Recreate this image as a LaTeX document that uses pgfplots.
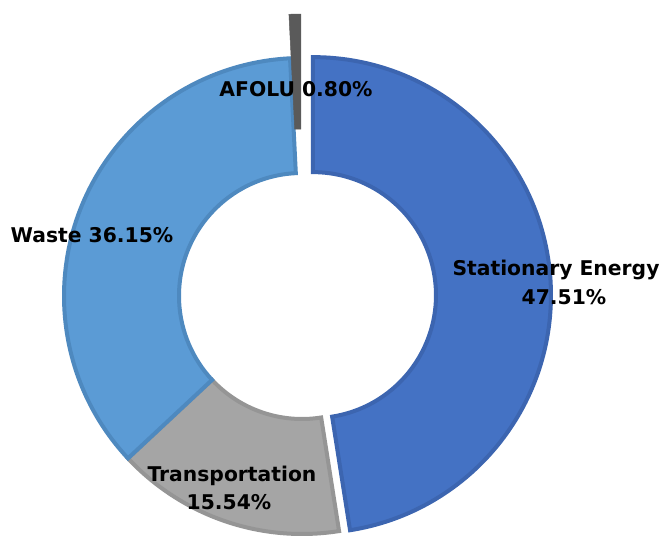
\documentclass[border=0pt]{standalone}
\usepackage{pgfplots}
\pgfplotsset{compat=1.18}
\usepackage{pgfplotstable}
\usepackage{fontspec}
\setmainfont{DejaVu Sans}
\definecolor{c0}{HTML}{4472C4}\definecolor{d0}{HTML}{3C65B0}
\definecolor{c1}{HTML}{A5A5A5}\definecolor{d1}{HTML}{959595}
\definecolor{c2}{HTML}{5B9BD5}\definecolor{d2}{HTML}{4E89BF}
\definecolor{c3}{HTML}{5A5A5A}\definecolor{d3}{HTML}{5A5A5A}
\newcommand\lbl{\bfseries\fontsize{20.3}{24}\selectfont}

% value = share in %, explode = offset of the slice along its mid angle (pt)
\pgfplotstableread{
label value explode width
StationaryEnergy 47.51 11 4
Transportation 15.54 0 4
Waste 36.15 0 4
AFOLU 0.80 44 0.5
}\piedata

\def\cx{302}\def\cy{241}
\def\rin{123}\def\rout{238}

\newcommand\slice[1]{%
  \filldraw[fill=c#1,draw=d#1,line width=\csname lw#1\endcsname pt,line join=miter]
   ([shift={(\csname sa#1\endcsname:\rin pt)}]axis cs:\csname px#1\endcsname,\csname py#1\endcsname)
   -- ([shift={(\csname sa#1\endcsname:\rout pt)}]axis cs:\csname px#1\endcsname,\csname py#1\endcsname)
   arc[start angle=\csname sa#1\endcsname, end angle=\csname ea#1\endcsname, radius=\rout pt]
   -- ([shift={(\csname ea#1\endcsname:\rin pt)}]axis cs:\csname px#1\endcsname,\csname py#1\endcsname)
   arc[start angle=\csname ea#1\endcsname, end angle=\csname sa#1\endcsname, radius=\rin pt]
   -- cycle;}

\begin{document}
\begin{tikzpicture}
\xdef\cum{0}
\foreach \i in {0,...,3}{%
  \pgfplotstablegetelem{\i}{value}\of\piedata \let\myv\pgfplotsretval
  \pgfplotstablegetelem{\i}{explode}\of\piedata \let\mye\pgfplotsretval
  \pgfplotstablegetelem{\i}{width}\of\piedata \let\myw\pgfplotsretval
  \pgfmathsetmacro\mysa{90-3.6*\cum}%
  \pgfmathsetmacro\myea{90-3.6*(\cum+\myv)}%
  \pgfmathsetmacro\myma{(\mysa+\myea)/2}%
  \pgfmathsetmacro\mypx{\cx+\mye*cos(\myma)}%
  \pgfmathsetmacro\mypy{\cy+\mye*sin(\myma)}%
  \pgfmathsetmacro\nc{\cum+\myv}%
  \expandafter\xdef\csname sa\i\endcsname{\mysa}%
  \expandafter\xdef\csname ea\i\endcsname{\myea}%
  \expandafter\xdef\csname px\i\endcsname{\mypx}%
  \expandafter\xdef\csname py\i\endcsname{\mypy}%
  \expandafter\xdef\csname lw\i\endcsname{\myw}%
  \xdef\cum{\nc}%
}
\begin{axis}[x=1pt,y=1pt,xmin=0,xmax=664,ymin=0,ymax=537,
  hide axis,clip=false,scale only axis]
\path (axis cs:0,0) rectangle (axis cs:664,537);
\slice{0}
\slice{1}
\slice{2}
\slice{3}
\node[anchor=base,font=\lbl,inner sep=0pt] at (axis cs:296,440) {AFOLU 0.80\%};
\node[anchor=base,font=\lbl,inner sep=0pt] at (axis cs:92,294) {Waste 36.15\%};
\node[anchor=base,font=\lbl,inner sep=0pt] at (axis cs:556,261) {Stationary Energy};
\node[anchor=base,font=\lbl,inner sep=0pt] at (axis cs:564,232) {47.51\%};
\node[anchor=base,font=\lbl,inner sep=0pt] at (axis cs:232,55) {Transportation};
\node[anchor=base,font=\lbl,inner sep=0pt] at (axis cs:229,27) {15.54\%};
\end{axis}
\end{tikzpicture}
\end{document}
